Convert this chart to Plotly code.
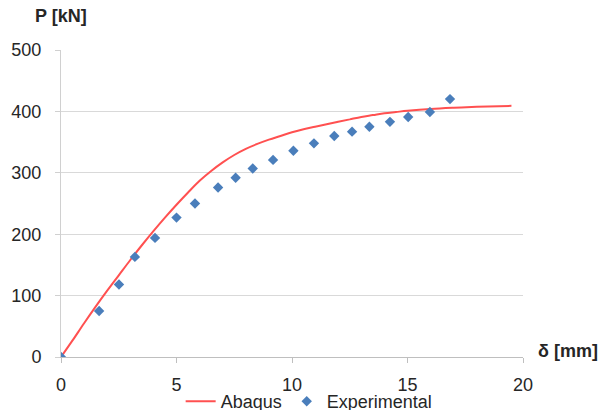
import plotly.graph_objects as go

# Abaqus numerical load-displacement curve
abaqus_delta = [0, 0.5, 1.0, 1.5, 2.0, 2.5, 3.0, 3.5, 4.0, 4.5, 5.0, 5.5, 6.0, 6.5,
                7.0, 7.5, 8.0, 8.5, 9.0, 9.5, 10.0, 10.5, 11.0, 11.5, 12.0, 12.5,
                13.0, 13.5, 14.0, 14.5, 15.0, 16.0, 17.0, 18.0, 19.5]
abaqus_load = [0, 27, 55, 82, 108, 133, 158, 182, 205, 227, 248, 268, 287, 303,
               317, 329, 339, 347, 354, 360, 366, 371, 375, 379, 383, 387,
               391, 394, 397, 399, 401, 404, 406, 407.5, 409]

# Experimental measurements
exp_delta = [0, 1.65, 2.51, 3.2, 4.07, 5.0, 5.8, 6.8, 7.56, 8.3, 9.18, 10.06,
             10.95, 11.83, 12.6, 13.35, 14.24, 15.03, 15.97, 16.84]
exp_load = [0, 75, 118, 163, 194, 227, 250, 276, 292, 307, 321, 336,
            348, 360, 367, 375, 383, 391, 399, 420]

x_ticks = [0, 5, 10, 15, 20]
y_ticks = [0, 100, 200, 300, 400, 500]

FONT = "Liberation Sans, Arial, sans-serif"
TEXT = "#262626"

fig = go.Figure()
fig.add_trace(go.Scatter(
    x=abaqus_delta, y=abaqus_load, mode="lines", name="Abaqus",
    line=dict(color="#ff5050", width=2, shape="spline", smoothing=1.0),
))
fig.add_trace(go.Scatter(
    x=exp_delta, y=exp_load, mode="markers", name="Experimental",
    marker=dict(symbol="diamond", size=8, color="#4a7ebb"),
))

fig.update_layout(
    width=605, height=410,
    margin=dict(l=61, r=82, t=50, b=53, autoexpand=False),
    paper_bgcolor="white", plot_bgcolor="white",
    font=dict(family=FONT, size=18, color=TEXT),
    showlegend=True,
    legend=dict(
        orientation="h", x=0.259, xanchor="left", y=-0.145, yanchor="middle",
        font=dict(family=FONT, size=18, color=TEXT),
        itemwidth=30, tracegroupgap=0, bgcolor="rgba(0,0,0,0)",
    ),
    xaxis=dict(
        range=[0, 20], tickvals=x_ticks, showgrid=False, zeroline=False,
        showline=True, linecolor="#bfbfbf", linewidth=1,
        ticks="outside", ticklen=5, tickcolor="#bfbfbf",
        ticklabelstandoff=6, tickfont=dict(size=18, color=TEXT),
    ),
    yaxis=dict(
        range=[0, 500], tickvals=y_ticks, showgrid=True, gridcolor="#d9d9d9",
        gridwidth=1, zeroline=False,
        showline=True, linecolor="#d0d0d0", linewidth=1,
        ticks="outside", ticklen=5, tickcolor="#d0d0d0",
        ticklabelstandoff=10, tickfont=dict(size=18, color=TEXT),
    ),
    annotations=[
        dict(text="<b>P [kN]</b>", xref="paper", yref="paper", x=-0.06, y=1.0,
             xanchor="left", yanchor="bottom", yshift=22, showarrow=False,
             font=dict(family=FONT, size=18, color=TEXT)),
        dict(text="<b>δ [mm]</b>", xref="paper", yref="paper", x=1.0, y=0.0,
             xanchor="left", yanchor="middle", xshift=13, yshift=6, showarrow=False,
             font=dict(family=FONT, size=18, color=TEXT)),
    ],
)

fig.write_html("out.html")
